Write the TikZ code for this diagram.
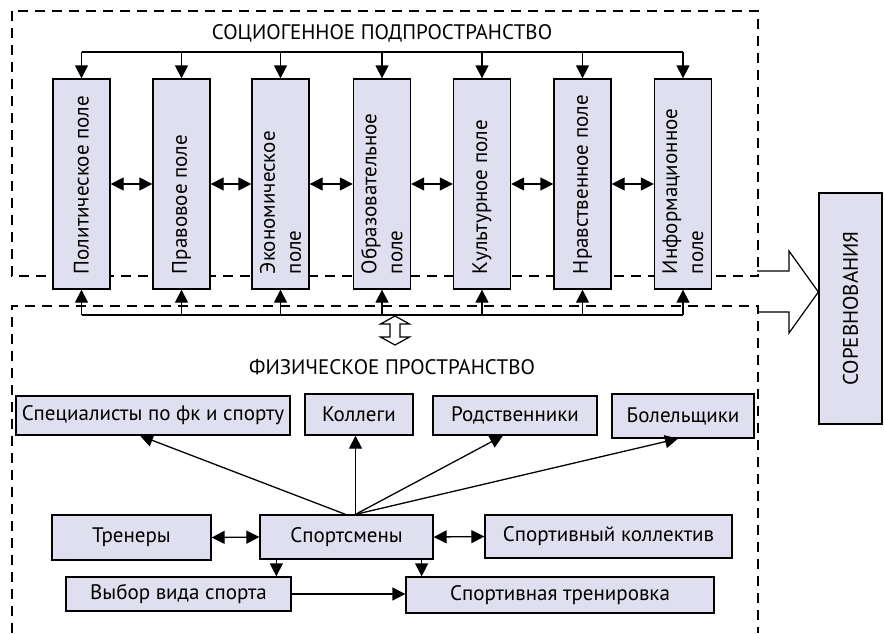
\documentclass[tikz,border=0pt]{standalone}
\usepackage{fontspec}
\setmainfont{PT Sans}
\usetikzlibrary{arrows.meta,calc}
\definecolor{boxfill}{HTML}{DFDFEF}
\newcommand\dfont{\fontsize{21}{26}\selectfont}
\begin{document}
\begin{tikzpicture}[x=1pt,y=-1pt,line width=1.3pt,
  box/.style={draw, fill=boxfill, inner sep=0pt, font=\dfont},
  fieldbox/.style={box, minimum width=57pt, minimum height=210pt},
  fieldtext/.style={rotate=90, anchor=west, align=left, inner sep=0pt, font=\dfont},
  arr/.style={-{Triangle[length=13pt,width=13pt]}},
  darr/.style={{Triangle[length=13pt,width=13pt]}-{Triangle[length=13pt,width=13pt]}},
  dashline/.style={dash pattern=on 10pt off 7pt, line width=1.2pt},
  hollow/.style={draw, fill=white, line width=1.2pt, line join=miter}]
\useasboundingbox (0,0) rectangle (885,633);
% dashed regions
\draw[dashline] (12,11) rectangle (758,276);
\draw[dashline] (12,633) -- (12,306) -- (758,306) -- (758,633);
% titles
\node[font=\dfont] (t1) at (382,33) {СОЦИОГЕННОЕ ПОДПРОСТРАНСТВО};
\node[font=\dfont] (t2) at (392,367) {ФИЗИЧЕСКОЕ ПРОСТРАНСТВО};
% field boxes
\node[fieldbox] (f1) at (81.5,184) {};
\node[fieldbox] (f2) at (181.5,184) {};
\node[fieldbox] (f3) at (280.5,184) {};
\node[fieldbox] (f4) at (382,184) {};
\node[fieldbox] (f5) at (482,184) {};
\node[fieldbox] (f6) at (582.5,184) {};
\node[fieldbox] (f7) at (683,184) {};
\node[fieldtext] at ([yshift=15pt]f1.south) {Политическое поле};
\node[fieldtext] at ([yshift=15pt]f2.south) {Правовое поле};
\node[fieldtext] at ([yshift=15pt]f3.south) {Экономическое\\поле};
\node[fieldtext] at ([yshift=15pt]f4.south) {Образовательное\\поле};
\node[fieldtext] at ([yshift=15pt]f5.south) {Культурное поле};
\node[fieldtext] at ([yshift=15pt]f6.south) {Нравственное поле};
\node[fieldtext] at ([yshift=15pt]f7.south) {Информационное\\поле};
\coordinate (tb) at (0,52);
\coordinate (bb) at (0,315);
% buses
\draw (f1.north |- tb) -- (f7.north |- tb);
\draw (f1.south |- bb) -- (f7.south |- bb);
\foreach \i in {1,...,7} {
  \draw[arr] (f\i.north |- tb) -- (f\i.north);
  \draw[arr] (f\i.south |- bb) -- (f\i.south);
}
\foreach \i/\j in {1/2,2/3,3/4,4/5,5/6,6/7} {
  \draw[darr] (f\i.east) -- (f\j.west);
}
% hollow double arrow
\draw[hollow] (395,316) -- (409.5,324) -- (400,324) -- (400,337) -- (409.5,337) -- (395,345)
  -- (380.5,337) -- (390,337) -- (390,324) -- (380.5,324) -- cycle;
% competitions
\node[box, minimum width=63pt, minimum height=231pt] (comp) at (850.5,308.5) {};
\node[rotate=90, font=\dfont, inner sep=0pt] at (comp.center) {СОРЕВНОВАНИЯ};
\draw[line width=1.2pt, line join=miter] (757,271) -- (789,271) -- (789,251) -- (comp.west |- 0,292) -- (789,333) -- (789,312) -- (757,312);
% lower boxes
\node[box, minimum width=274pt, minimum height=39pt] (spec) at (153,415.5) {Специалисты по фк и спорту};
\node[box, minimum width=108pt, minimum height=41pt] (koll) at (359,414.5) {Коллеги};
\node[box, minimum width=164pt, minimum height=39pt] (rodst) at (515,415.5) {Родственники};
\node[box, minimum width=142pt, minimum height=44pt] (bolel) at (683,416) {Болельщики};
\node[box, minimum width=159pt, minimum height=45pt] (tren) at (131.5,537.5) {Тренеры};
\node[box, minimum width=173pt, minimum height=44pt] (sport) at (346.5,537) {Спортсмены};
\node[box, minimum width=247pt, minimum height=43pt] (koll2) at (608.5,536.5) {Спортивный коллектив};
\node[box, minimum width=225pt, minimum height=34pt] (vybor) at (178.5,594) {Выбор вида спорта};
\node[box, minimum width=308pt, minimum height=36pt] (trenir) at (560,595) {Спортивная тренировка};
% arrows from sportsmen
\coordinate (h1) at ([xshift=-1pt]sport.north);
\coordinate (h2) at ([xshift=9pt]sport.north);
\draw[arr] (h1) -- ([xshift=-13pt]spec.south);
\draw[arr] (h2) -- (h2 |- koll.south);
\draw[arr] (h2) -- ([xshift=-12pt]rodst.south);
\draw[arr] (h2) -- ([xshift=-5pt]bolel.south);
\draw[darr] (tren.east) -- (sport.west);
\draw[darr] (sport.east) -- (koll2.west);
\draw[arr] ([xshift=17pt]sport.south west) -- ([xshift=17pt]sport.south west |- vybor.north);
\draw[arr] ([xshift=-12pt]sport.south east) -- ([xshift=-12pt]sport.south east |- trenir.north);
\draw[arr] (vybor.east) -- (vybor.east -| trenir.west);
\end{tikzpicture}
\end{document}
